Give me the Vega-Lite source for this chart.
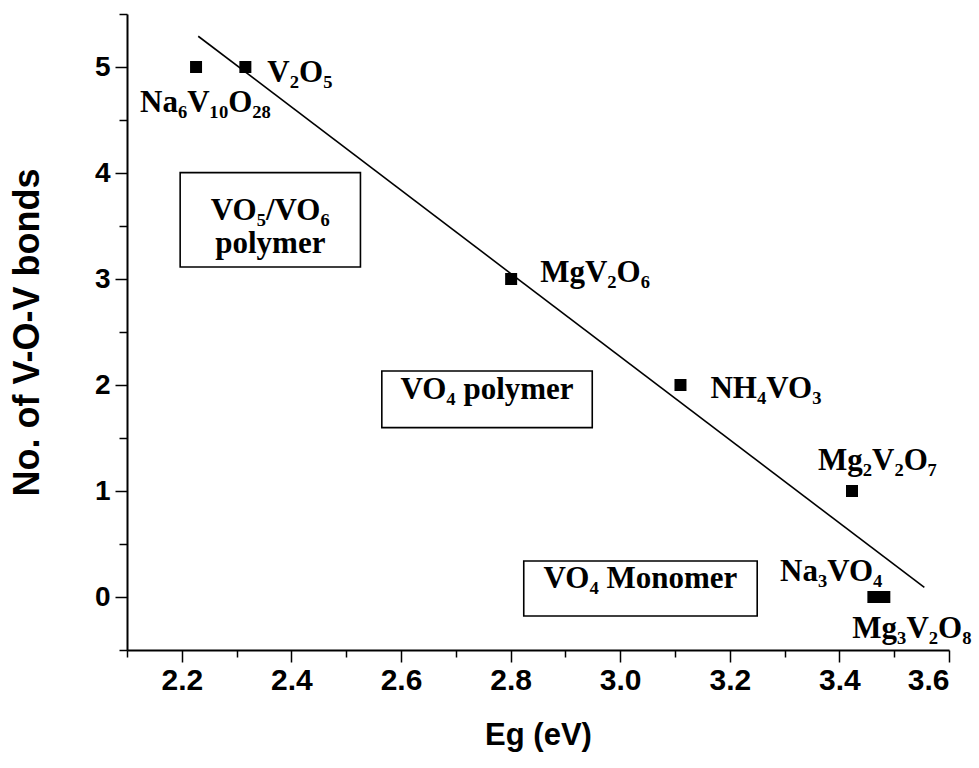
{
  "$schema": "https://vega.github.io/schema/vega-lite/v6.json",
  "width": 822,
  "height": 636,
  "autosize": "none",
  "padding": {"left": 127, "top": 14, "right": 30, "bottom": 118},
  "background": "white",
  "config": {
    "view": {"stroke": null},
    "axis": {
      "grid": false,
      "domainColor": "black",
      "domainWidth": 2,
      "tickColor": "black",
      "tickWidth": 1.5,
      "labelColor": "black",
      "titleColor": "black",
      "labelFont": "Liberation Sans",
      "titleFont": "Liberation Sans",
      "labelFontWeight": "bold",
      "titleFontWeight": "bold"
    }
  },
  "datasets": {
    "points": [
      {"name": "Na6V10O28", "label": "Na₆V₁₀O₂₈", "Eg": 2.226, "bonds": 5},
      {"name": "V2O5", "label": "V₂O₅", "Eg": 2.316, "bonds": 5},
      {"name": "MgV2O6", "label": "MgV₂O₆", "Eg": 2.801, "bonds": 3},
      {"name": "NH4VO3", "label": "NH₄VO₃", "Eg": 3.11, "bonds": 2},
      {"name": "Mg2V2O7", "label": "Mg₂V₂O₇", "Eg": 3.423, "bonds": 1},
      {"name": "Na3VO4", "label": "Na₃VO₄", "Eg": 3.462, "bonds": 0},
      {"name": "Mg3V2O8", "label": "Mg₃V₂O₈", "Eg": 3.482, "bonds": 0}
    ],
    "fit": [
      {"Eg": 2.23, "bonds": 5.29},
      {"Eg": 3.555, "bonds": 0.09}
    ],
    "regions": [
      {"region": "VO₅/VO₆\npolymer", "x1": 2.197, "x2": 2.526, "y1": 3.113, "y2": 4.004, "shift": -5},
      {"region": "VO₄ polymer", "x1": 2.565, "x2": 2.949, "y1": 1.598, "y2": 2.132, "shift": 11},
      {"region": "VO₄ Monomer", "x1": 2.824, "x2": 3.25, "y1": -0.179, "y2": 0.34, "shift": 11}
    ]
  },
  "layer": [
    {
      "data": {"name": "regions"},
      "mark": {"type": "rect", "fill": "white", "stroke": "black", "strokeWidth": 1.6},
      "encoding": {
        "x": {"field": "x1", "type": "quantitative", "scale": {"domain": [2.1, 3.6], "nice": false, "zero": false},
          "axis": {
            "values": [2.1, 2.2, 2.3, 2.4, 2.5, 2.6, 2.7, 2.8, 2.9, 3.0, 3.1, 3.2, 3.3, 3.4, 3.5, 3.6],
            "labelExpr": "round(datum.value*10) % 2 === 0 ? format(datum.value, '.1f') : ''",
            "tickSize": {"condition": {"test": "round(datum.value*10) % 2 === 0", "value": 12}, "value": 7},
            "labelFontSize": 30,
            "labelPadding": 3,
            "title": "Eg (eV)",
            "titleFontSize": 31,
            "titlePadding": 25
          }
        },
        "x2": {"field": "x2"},
        "y": {"field": "y1", "type": "quantitative", "scale": {"domain": [-0.5, 5.5], "nice": false, "zero": false},
          "axis": {
            "values": [-0.5, 0, 0.5, 1, 1.5, 2, 2.5, 3, 3.5, 4, 4.5, 5, 5.5],
            "labelExpr": "datum.value % 1 === 0 ? format(datum.value, 'd') : ''",
            "tickSize": {"condition": {"test": "datum.value % 1 === 0", "value": 12}, "value": 8},
            "labelFontSize": 28,
            "labelPadding": 5,
            "title": "No. of V-O-V bonds",
            "titleFontSize": 36,
            "titlePadding": 48
          }
        },
        "y2": {"field": "y2"}
      }
    },
    {
      "data": {"name": "regions"},
      "transform": [
        {"calculate": "(datum.x1 + datum.x2) / 2", "as": "xm"},
        {"calculate": "(datum.y1 + datum.y2) / 2", "as": "ym"}
      ],
      "mark": {"type": "text", "font": "Liberation Serif", "fontWeight": "bold", "fontSize": 31, "align": "center", "baseline": "alphabetic", "lineBreak": "\n", "lineHeight": 33, "color": "black"},
      "encoding": {
        "x": {"field": "xm", "type": "quantitative"},
        "y": {"field": "ym", "type": "quantitative"},
        "dy": {"field": "shift"},
        "text": {"field": "region"}
      }
    },
    {
      "data": {"name": "fit"},
      "mark": {"type": "line", "color": "black", "strokeWidth": 1.6},
      "encoding": {
        "x": {"field": "Eg", "type": "quantitative"},
        "y": {"field": "bonds", "type": "quantitative"}
      }
    },
    {
      "data": {"name": "points"},
      "mark": {"type": "point", "shape": "square", "filled": true, "size": 144, "color": "black", "opacity": 1},
      "encoding": {
        "x": {"field": "Eg", "type": "quantitative"},
        "y": {"field": "bonds", "type": "quantitative"}
      }
    },
    {
      "data": {"name": "points"},
      "transform": [{"filter": "datum.name === 'V2O5'"}],
      "mark": {"type": "text", "font": "Liberation Serif", "fontWeight": "bold", "fontSize": 31, "align": "left", "baseline": "alphabetic", "dx": 22, "dy": 15, "color": "black"},
      "encoding": {"x": {"field": "Eg", "type": "quantitative"}, "y": {"field": "bonds", "type": "quantitative"}, "text": {"field": "label"}}
    },
    {
      "data": {"name": "points"},
      "transform": [{"filter": "datum.name === 'Na6V10O28'"}],
      "mark": {"type": "text", "font": "Liberation Serif", "fontWeight": "bold", "fontSize": 31, "align": "left", "baseline": "alphabetic", "dx": -56, "dy": 45, "color": "black"},
      "encoding": {"x": {"field": "Eg", "type": "quantitative"}, "y": {"field": "bonds", "type": "quantitative"}, "text": {"field": "label"}}
    },
    {
      "data": {"name": "points"},
      "transform": [{"filter": "datum.name === 'MgV2O6'"}],
      "mark": {"type": "text", "font": "Liberation Serif", "fontWeight": "bold", "fontSize": 31, "align": "left", "baseline": "alphabetic", "dx": 29, "dy": 3, "color": "black"},
      "encoding": {"x": {"field": "Eg", "type": "quantitative"}, "y": {"field": "bonds", "type": "quantitative"}, "text": {"field": "label"}}
    },
    {
      "data": {"name": "points"},
      "transform": [{"filter": "datum.name === 'NH4VO3'"}],
      "mark": {"type": "text", "font": "Liberation Serif", "fontWeight": "bold", "fontSize": 31, "align": "left", "baseline": "alphabetic", "dx": 30, "dy": 13, "color": "black"},
      "encoding": {"x": {"field": "Eg", "type": "quantitative"}, "y": {"field": "bonds", "type": "quantitative"}, "text": {"field": "label"}}
    },
    {
      "data": {"name": "points"},
      "transform": [{"filter": "datum.name === 'Mg2V2O7'"}],
      "mark": {"type": "text", "font": "Liberation Serif", "fontWeight": "bold", "fontSize": 31, "align": "left", "baseline": "alphabetic", "dx": -34, "dy": -21, "color": "black"},
      "encoding": {"x": {"field": "Eg", "type": "quantitative"}, "y": {"field": "bonds", "type": "quantitative"}, "text": {"field": "label"}}
    },
    {
      "data": {"name": "points"},
      "transform": [{"filter": "datum.name === 'Na3VO4'"}],
      "mark": {"type": "text", "font": "Liberation Serif", "fontWeight": "bold", "fontSize": 31, "align": "right", "baseline": "alphabetic", "dx": 9, "dy": -16, "color": "black"},
      "encoding": {"x": {"field": "Eg", "type": "quantitative"}, "y": {"field": "bonds", "type": "quantitative"}, "text": {"field": "label"}}
    },
    {
      "data": {"name": "points"},
      "transform": [{"filter": "datum.name === 'Mg3V2O8'"}],
      "mark": {"type": "text", "font": "Liberation Serif", "fontWeight": "bold", "fontSize": 31, "align": "left", "baseline": "alphabetic", "dx": -32, "dy": 41, "color": "black"},
      "encoding": {"x": {"field": "Eg", "type": "quantitative"}, "y": {"field": "bonds", "type": "quantitative"}, "text": {"field": "label"}}
    }
  ]
}
